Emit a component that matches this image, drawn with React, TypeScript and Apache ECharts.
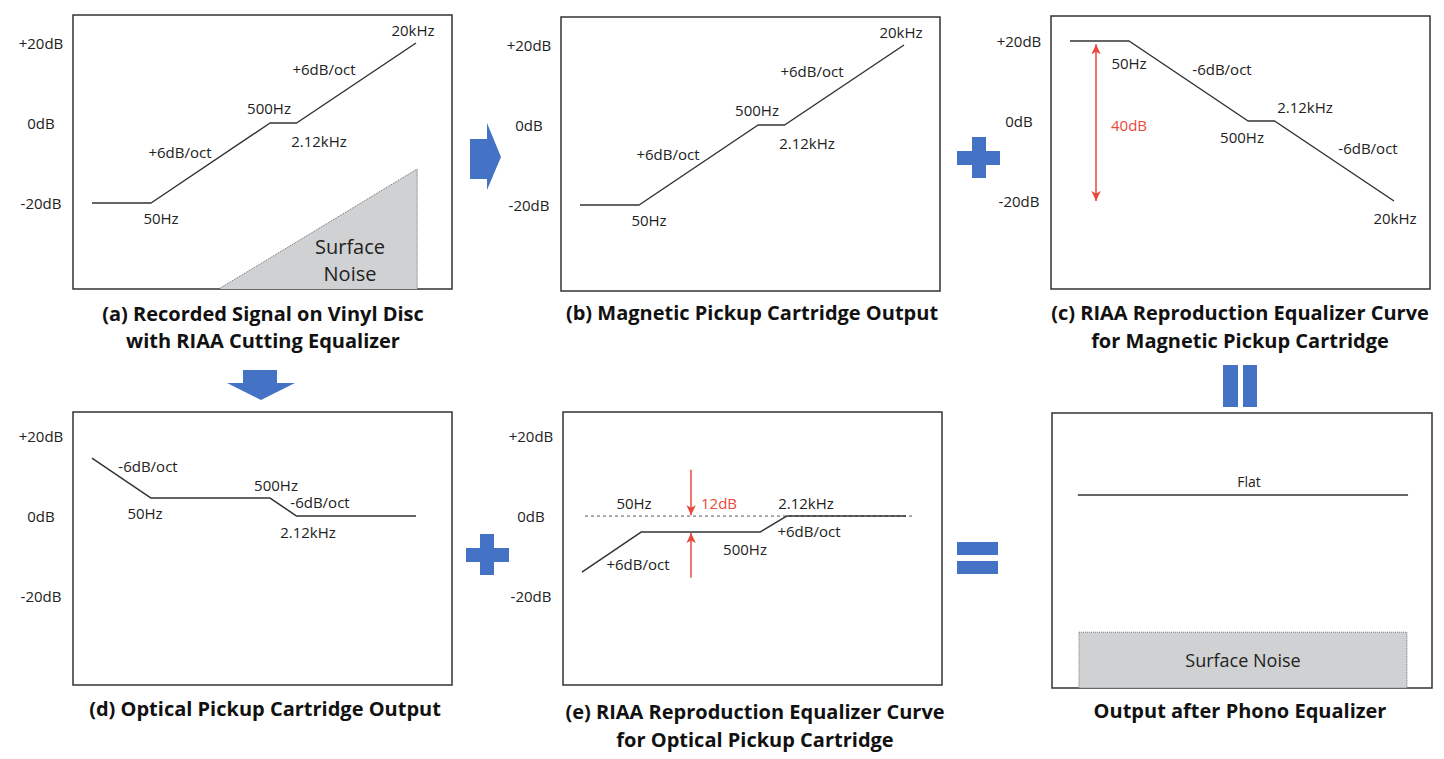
import React, { useEffect, useRef } from 'react';
import * as echarts from 'echarts';

// ---- Data (schematic frequency position along each panel, level in dB) ----
const FREQ_LABELS = ['', '50Hz', '500Hz', '2.12kHz', '20kHz'];
const FREQ_POS = [5, 20.6, 52, 59, 90.5];
const RECORDED_DB = [-20, -20, 0, 0, 20];
const MAGNETIC_OUT_DB = [-20, -20, 0, 0, 20];
const RIAA_MAGNETIC_DB = [20, 20, 0, 0, -20];
const OPTICAL_OUT_DB = [14.5, 4.5, 4.5, 0, 0];
const RIAA_OPTICAL_DB = [-14, -4, -4, 0, 0];

const NOISE_TRI_POS = [38.8, 90.8, 90.8];
const NOISE_TRI_DB = [-41.3, -11.5, -41.3];

const ZERO_REF_POS = [5.8, 92.3];
const ZERO_REF_DB = [0, 0];

const FLAT_POS = [6.8, 93.7];
const FLAT_DB = [5.7, 5.7];
const NOISE_FLAT_POS = [7.1, 93.4];
const NOISE_FLAT_DB = [-42, -28.2];

const Y_TICKS = [-20, 0, 20];

const ARROW40_POS = 11.9;
const ARROW40_DB = [19.2, -20];
const ARROW12_POS = 33.8;
const ARROW12_TOP_DB = [11.6, 0.2];
const ARROW12_BOTTOM_DB = [-15.4, -4.2];

// ---- Layout ----
const PANELS = [
  { left: 73, top: 15, width: 379, height: 274, yMin: -41.5, yMax: 27, labels: true },
  { left: 561, top: 17, width: 379, height: 274, yMin: -41.5, yMax: 27, labels: true },
  { left: 1051, top: 16, width: 379, height: 273, yMin: -42, yMax: 26.25, labels: true },
  { left: 73, top: 412, width: 379, height: 273, yMin: -42.2, yMax: 26, labels: true },
  { left: 563, top: 412, width: 379, height: 273, yMin: -42.2, yMax: 26, labels: true },
  { left: 1052, top: 413, width: 380, height: 275, yMin: -42, yMax: 26, labels: false },
];

const FONT = '"Open Sans", Lato, sans-serif';
const INK = '#222';
const LINE = '#333';
const RED = '#e8493b';
const BLUE = '#4472c4';

const pts = (xs: number[], ys: number[]) => xs.map((x, i) => [x, ys[i]]);

type Note = [string, number, number, string?, number?];

const NOTES: Note[] = [
  // (a)
  [FREQ_LABELS[4], 413, 30], ['+6dB/oct', 324, 69], [FREQ_LABELS[2], 269, 108],
  [FREQ_LABELS[3], 319, 141], ['+6dB/oct', 180, 152], [FREQ_LABELS[1], 161, 218],
  ['Surface', 350, 246, INK, 20], ['Noise', 350, 273, INK, 20],
  // (b)
  [FREQ_LABELS[4], 901, 32], ['+6dB/oct', 812, 71], [FREQ_LABELS[2], 757, 110],
  [FREQ_LABELS[3], 807, 143], ['+6dB/oct', 668, 154], [FREQ_LABELS[1], 649, 220],
  // (c)
  [FREQ_LABELS[1], 1129, 63], ['-6dB/oct', 1222, 69], [FREQ_LABELS[3], 1305, 107],
  [FREQ_LABELS[2], 1242, 137], ['-6dB/oct', 1368, 148], [FREQ_LABELS[4], 1395, 218],
  ['40dB', 1129, 125, RED],
  // (d)
  ['-6dB/oct', 148, 466], [FREQ_LABELS[2], 276, 485], ['-6dB/oct', 320, 502],
  [FREQ_LABELS[1], 145, 513], [FREQ_LABELS[3], 308, 532],
  // (e)
  [FREQ_LABELS[1], 634, 503], ['12dB', 719, 503, RED], [FREQ_LABELS[3], 806, 503],
  ['+6dB/oct', 809, 531], [FREQ_LABELS[2], 745, 549], ['+6dB/oct', 638, 564],
  // (f)
  ['Flat', 1249, 481, INK, 14],
];

const TITLES: [string, number, number][] = [
  ['(a) Recorded Signal on Vinyl Disc', 263, 313],
  ['with RIAA Cutting Equalizer', 263, 340],
  ['(b) Magnetic Pickup Cartridge Output', 752, 312],
  ['(c) RIAA Reproduction Equalizer Curve', 1240, 312],
  ['for Magnetic Pickup Cartridge', 1240, 340],
  ['(d) Optical Pickup Cartridge Output', 265, 708],
  ['(e) RIAA Reproduction Equalizer Curve', 755, 711],
  ['for Optical Pickup Cartridge', 755, 739],
  ['Output after Phono Equalizer', 1240, 710],
];

function textEl(text: string, x: number, y: number, size: number, color: string, bold = false) {
  return {
    type: 'text',
    x,
    y,
    z: 100,
    silent: true,
    style: {
      text,
      fill: color,
      fontSize: size,
      fontFamily: FONT,
      fontWeight: bold ? 'bold' : 'normal',
      textAlign: 'center',
      textVerticalAlign: 'middle',
      align: 'center',
      verticalAlign: 'middle',
    },
  };
}

function rect(x: number, y: number, w: number, h: number) {
  return { type: 'rect', shape: { x, y, width: w, height: h }, style: { fill: BLUE }, silent: true };
}

function poly(points: number[][]) {
  return { type: 'polygon', shape: { points }, style: { fill: BLUE }, silent: true };
}

const curveStyle = { color: LINE, width: 1.5 };

function curve(idx: number, data: number[][], extra: any = {}) {
  return {
    type: 'line',
    xAxisIndex: idx,
    yAxisIndex: idx,
    data,
    showSymbol: false,
    symbol: 'none',
    silent: true,
    lineStyle: curveStyle,
    ...extra,
  };
}

export default function App() {
  const ref = useRef<HTMLDivElement>(null);

  useEffect(() => {
    if (!ref.current) return;
    const chart = echarts.init(ref.current, undefined, { renderer: 'svg' });

    const grid = PANELS.map((p) => ({
      left: p.left,
      top: p.top,
      width: p.width,
      height: p.height,
      show: true,
      borderColor: LINE,
      borderWidth: 1.5,
      backgroundColor: '#fff',
      containLabel: false,
    }));

    const xAxis = PANELS.map((_, i) => ({
      type: 'value',
      gridIndex: i,
      min: 0,
      max: 100,
      show: false,
    }));

    const yAxis = PANELS.map((p, i) => ({
      type: 'value',
      gridIndex: i,
      min: p.yMin,
      max: p.yMax,
      show: p.labels,
      axisLine: { show: false },
      axisTick: { show: false },
      splitLine: { show: false },
      axisLabel: {
        show: p.labels,
        customValues: Y_TICKS,
        margin: 32,
        align: 'center',
        color: INK,
        fontSize: 15,
        fontFamily: FONT,
        formatter: (v: number) => (v > 0 ? '+' : '') + v + 'dB',
      },
    }));

    const redLine = { color: RED, width: 1.5, type: 'solid' };

    const series: any[] = [
      curve(0, pts(FREQ_POS, RECORDED_DB)),
      {
        type: 'line',
        xAxisIndex: 0,
        yAxisIndex: 0,
        data: pts(NOISE_TRI_POS, NOISE_TRI_DB),
        showSymbol: false,
        symbol: 'none',
        silent: true,
        lineStyle: { color: '#666', width: 1, type: 'dotted' },
        areaStyle: { color: '#d0d1d3', opacity: 1, origin: 'start' },
        z: 1,
      },
      curve(1, pts(FREQ_POS, MAGNETIC_OUT_DB)),
      curve(2, pts(FREQ_POS, RIAA_MAGNETIC_DB), {
        markLine: {
          silent: true,
          symbol: ['arrow', 'arrow'],
          symbolSize: [7, 10],
          lineStyle: redLine,
          label: { show: false },
          data: [[{ coord: [ARROW40_POS, ARROW40_DB[0]] }, { coord: [ARROW40_POS, ARROW40_DB[1]] }]],
        },
      }),
      curve(3, pts(FREQ_POS, OPTICAL_OUT_DB)),
      curve(4, pts(ZERO_REF_POS, ZERO_REF_DB), {
        lineStyle: { color: '#556', width: 1, type: [3, 3] },
      }),
      curve(4, pts(FREQ_POS, RIAA_OPTICAL_DB), {
        markLine: {
          silent: true,
          symbol: ['none', 'arrow'],
          symbolSize: [7, 10],
          lineStyle: redLine,
          label: { show: false },
          data: [
            [{ coord: [ARROW12_POS, ARROW12_TOP_DB[0]] }, { coord: [ARROW12_POS, ARROW12_TOP_DB[1]] }],
            [{ coord: [ARROW12_POS, ARROW12_BOTTOM_DB[0]] }, { coord: [ARROW12_POS, ARROW12_BOTTOM_DB[1]] }],
          ],
        },
      }),
      curve(5, pts(FLAT_POS, FLAT_DB), {
        markArea: {
          silent: true,
          itemStyle: { color: '#d0d1d3', borderColor: '#777', borderWidth: 1, borderType: 'dotted' },
          label: { show: true, position: 'inside', color: INK, fontSize: 18, fontFamily: FONT },
          data: [[
            { name: 'Surface Noise', coord: [NOISE_FLAT_POS[0], NOISE_FLAT_DB[1]] },
            { coord: [NOISE_FLAT_POS[1], NOISE_FLAT_DB[0]] },
          ]],
        },
      }),
    ];

    const graphic: any[] = [
      // right arrow (a -> b)
      poly([[470, 139], [487, 139], [487, 123], [501, 157], [487, 190], [487, 179], [470, 179]]),
      // down arrow (a -> d)
      poly([[243, 370], [277, 370], [277, 383], [295, 383], [261, 400], [227, 383], [243, 383]]),
      // plus (b + c)
      rect(972, 137, 14, 41), rect(957, 151, 43, 14),
      // plus (d + e)
      rect(480, 534, 14, 41), rect(466, 548, 43, 14),
      // equals (e = f)
      rect(957, 542, 41, 13), rect(957, 561, 41, 13),
      // vertical equals (c = f)
      rect(1223, 365, 15, 42), rect(1243, 365, 14, 42),
      ...NOTES.map(([t, x, y, c, s]) => textEl(t, x, y, s || 15, c || INK)),
      ...TITLES.map(([t, x, y]) => textEl(t, x, y, 20, '#111', true)),
    ];

    chart.setOption({
      animation: false,
      backgroundColor: '#fff',
      grid,
      xAxis,
      yAxis,
      series,
      graphic,
    });

    return () => chart.dispose();
  }, []);

  return (
    <div
      ref={ref}
      style={{ position: 'fixed', left: 0, top: 0, width: 1444, height: 759, background: '#fff' }}
    />
  );
}
